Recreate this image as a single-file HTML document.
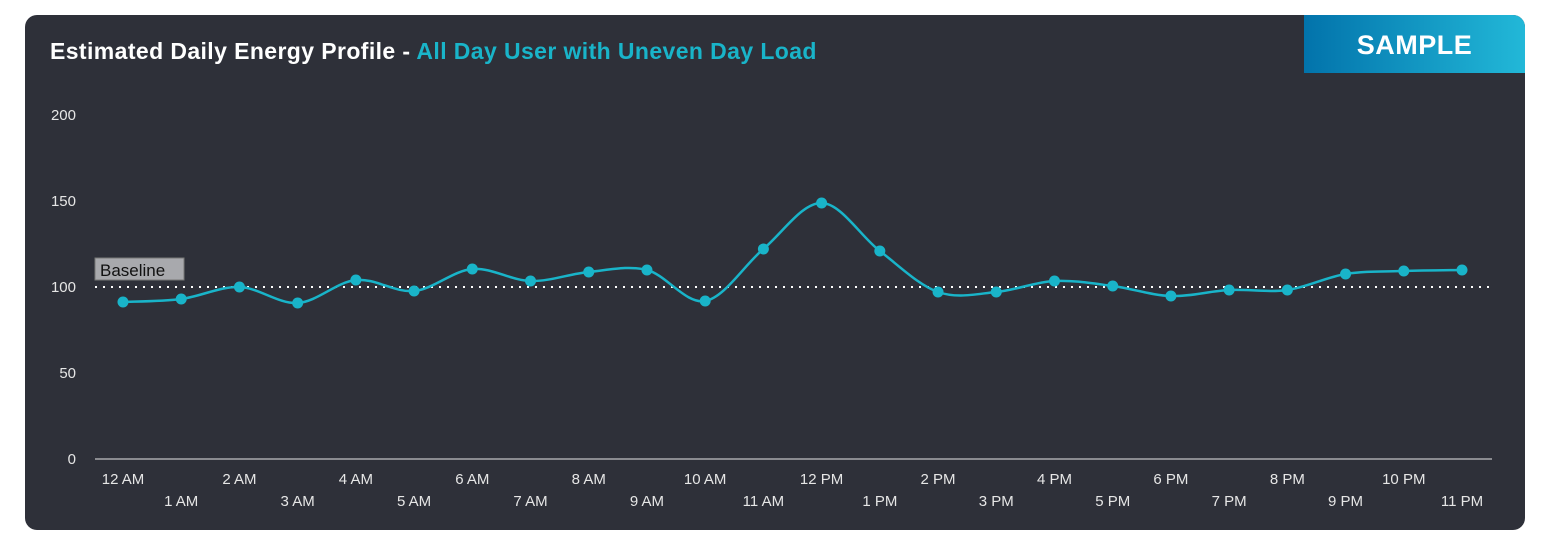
<!DOCTYPE html>
<html><head><meta charset="utf-8"><style>
html,body{margin:0;padding:0;background:#fff;width:1550px;height:544px;overflow:hidden}
.card{position:absolute;left:25px;top:15px;width:1500px;height:515px;background:#2e3039;border-radius:12px;overflow:hidden}
.title{position:absolute;left:25px;top:23px;font:bold 23px "Liberation Sans",sans-serif;color:#fff;letter-spacing:0.4px;white-space:nowrap}
.title span{color:#19b4c9}
.badge{position:absolute;right:0;top:0;width:221px;height:58px;background:linear-gradient(90deg,#0273ab,#22b8d8);color:#fff;font:bold 27px "Liberation Sans",sans-serif;text-align:center;line-height:60px;letter-spacing:0.5px}
svg{position:absolute;left:0;top:0}
</style></head><body>
<div class="card">
<div class="title">Estimated Daily Energy Profile - <span>All Day User with Uneven Day Load</span></div>
<div class="badge">SAMPLE</div>
</div>
<svg width="1550" height="544" id="s" font-family="Liberation Sans, sans-serif">
<g fill="#e6e6e6" font-size="15" text-anchor="end">
<text x="76" y="120">200</text><text x="76" y="206">150</text><text x="76" y="292">100</text><text x="76" y="378">50</text><text x="76" y="464">0</text>
</g>
<line x1="95" y1="459" x2="1492" y2="459" stroke="#e6e6e6" stroke-width="1"/>
<line x1="95" y1="287" x2="1492" y2="287" stroke="#fff" stroke-width="2" stroke-dasharray="2,6"/>
<rect x="95" y="258" width="89" height="22" fill="#a8a9ad" stroke="#777"/>
<text x="100" y="276" font-size="17" fill="#111">Baseline</text>
<g id="ticks" fill="#e6e6e6" font-size="15" text-anchor="middle"></g>
<path id="ln" fill="none" stroke="#19b4c9" stroke-width="2.5"/>
<g id="pts" fill="#19b4c9"></g>
</svg>
<script>
var ys=[302,299,287,303,280,291,269,281,272,270,301,249,203,251,292,292,281,286,296,290,290,274,271,270];
var labs=["12 AM","1 AM","2 AM","3 AM","4 AM","5 AM","6 AM","7 AM","8 AM","9 AM","10 AM","11 AM","12 PM","1 PM","2 PM","3 PM","4 PM","5 PM","6 PM","7 PM","8 PM","9 PM","10 PM","11 PM"];
var x0=123,dx=(1462-123)/23,P=[];
for(var i=0;i<24;i++)P.push([x0+i*dx,ys[i]]);
var d="M"+P[0][0]+","+P[0][1];
for(var i=0;i<23;i++){var p0=P[Math.max(i-1,0)],p1=P[i],p2=P[i+1],p3=P[Math.min(i+2,23)];
var k=1/6;d+=" C"+(p1[0]+(p2[0]-p0[0])*k)+","+(p1[1]+(p2[1]-p0[1])*k)+" "+(p2[0]-(p3[0]-p1[0])*k)+","+(p2[1]-(p3[1]-p1[1])*k)+" "+p2[0]+","+p2[1];}
document.getElementById("ln").setAttribute("d",d);
var g=document.getElementById("pts"),tk=document.getElementById("ticks"),ns="http://www.w3.org/2000/svg";
P.forEach(function(p,i){var c=document.createElementNS(ns,"circle");c.setAttribute("cx",p[0]);c.setAttribute("cy",p[1]);c.setAttribute("r",5.5);g.appendChild(c);
var t=document.createElementNS(ns,"text");t.setAttribute("x",p[0]);t.setAttribute("y",i%2?506:484);t.textContent=labs[i];tk.appendChild(t);});
</script>
</body></html>
